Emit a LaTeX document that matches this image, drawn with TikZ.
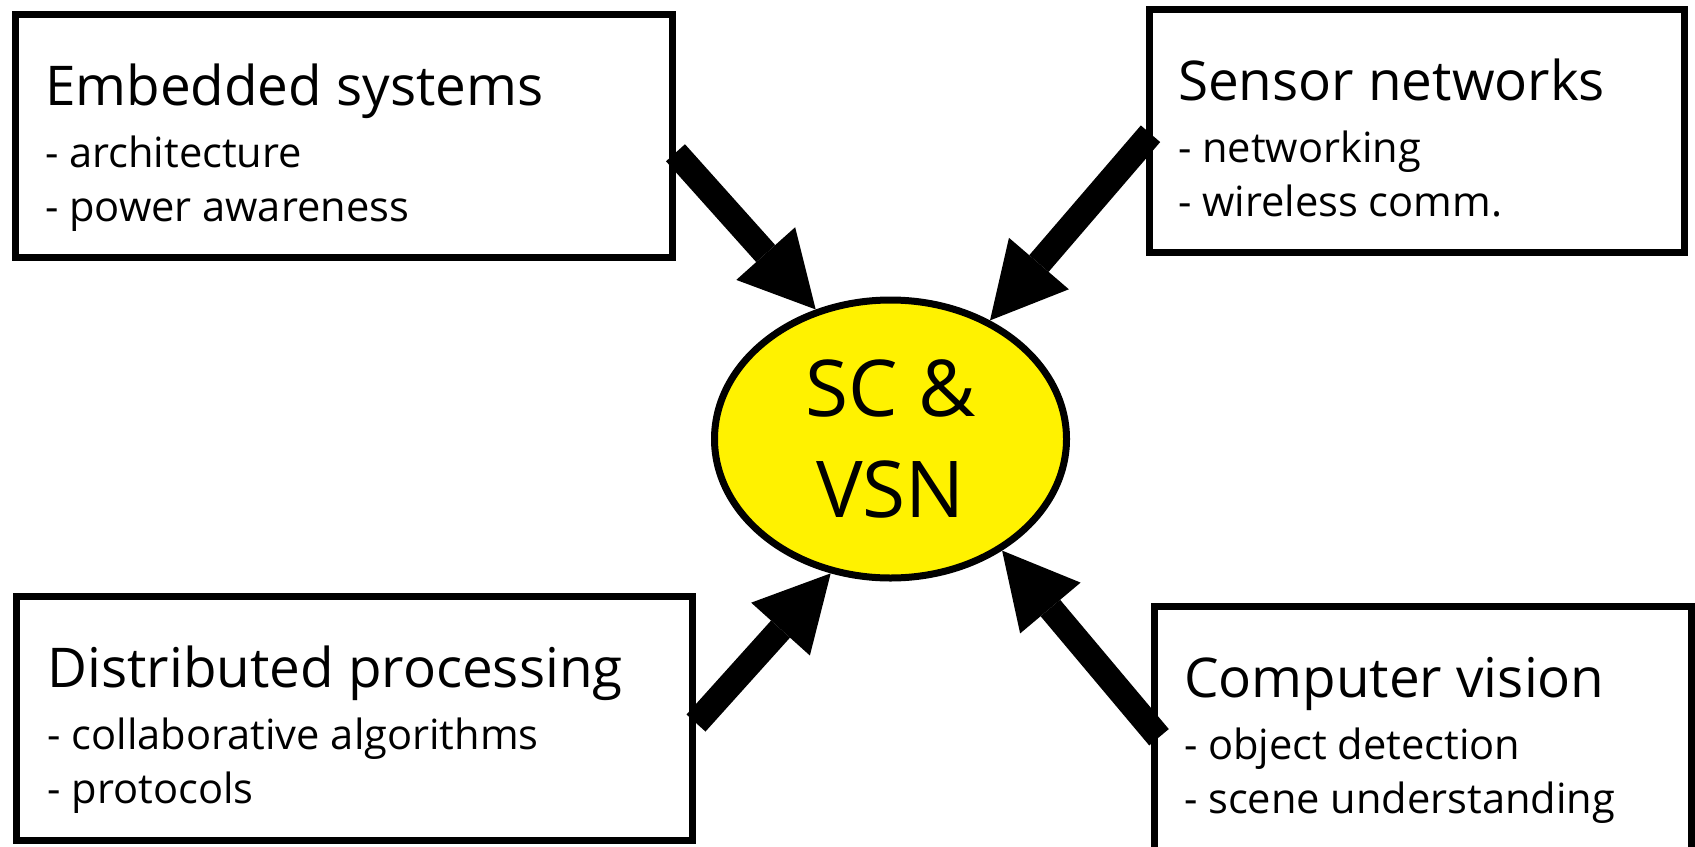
\documentclass[tikz,border=0pt]{standalone}
\usepackage{fontspec}
\setmainfont{Open Sans}
\usetikzlibrary{arrows.meta,shapes.geometric,calc}
\begin{document}
\begin{tikzpicture}[x=0.5pt,y=-0.5pt,
  box/.style={draw=black,line width=3.5pt,rectangle,inner sep=0pt,outer sep=0pt},
  headtext/.style={anchor=base west,inner sep=0pt,outer sep=0pt,font=\fontsize{27.4}{32}\selectfont},
  itemtext/.style={anchor=base west,inner sep=0pt,outer sep=0pt,font=\fontsize{20.8}{24}\selectfont},
  flow/.style={line width=12.75pt,-{Triangle[length=37.5pt,width=39.5pt,line width=0pt]}},
  hub/.style={ellipse,draw=black,line width=3.5pt,fill=yellow,inner sep=0pt,
    minimum width=176pt,minimum height=139pt,align=center,
    font=\fontsize{39.2}{50.8}\selectfont},
]
\useasboundingbox (0,0) rectangle (1695,846);
\clip (0,0) rectangle (1695,846);
\fill[white] (0,0) rectangle (1695,846);

% boxes
\node[box,minimum width=328.75pt,minimum height=121.75pt] (emb) at (343.75,135.75) {};
\node[box,minimum width=267.5pt,minimum height=121.75pt] (sen) at (1416.5,130.75) {};
\node[box,minimum width=338pt,minimum height=122pt] (dis) at (354.5,718) {};
\node[box,minimum width=268.75pt,minimum height=121.75pt] (cv) at (1422.75,728.25) {};

% texts
\node[headtext] (embT) at ($(emb.north west)+(30,91)$) {Embedded systems};
\node[itemtext] (embA) at ($(emb.north west)+(30,153)$) {- architecture};
\node[itemtext] (embB) at ($(emb.north west)+(30,207)$) {- power awareness};

\node[headtext] (senT) at ($(sen.north west)+(29,91)$) {Sensor networks};
\node[itemtext] (senA) at ($(sen.north west)+(29,153)$) {- networking};
\node[itemtext] (senB) at ($(sen.north west)+(29,207)$) {- wireless comm.};

\node[headtext] (disT) at ($(dis.north west)+(31,91)$) {Distributed processing};
\node[itemtext] (disA) at ($(dis.north west)+(31,153)$) {- collaborative algorithms};
\node[itemtext] (disB) at ($(dis.north west)+(31,207)$) {- protocols};

\node[headtext] (cvT) at ($(cv.north west)+(30,91)$) {Computer vision};
\node[itemtext] (cvA) at ($(cv.north west)+(30,153)$) {- object detection};
\node[itemtext] (cvB) at ($(cv.north west)+(30,207)$) {- scene understanding};

% hub
\node[hub] (ell) at (890.5,439) {SC \&\\VSN};

% arrows
\draw[flow] ($(emb.east)+(3,17)$) -- (ell.120.2);
\draw[flow] ($(sen.west)+(1.5,3)$) -- (ell.50.9);
\draw[flow] ($(dis.east)+(3.5,5)$) -- (ell.246.7);
\draw[flow] ($(cv.west)+(5,9)$) -- (ell.315.2);
\end{tikzpicture}
\end{document}
